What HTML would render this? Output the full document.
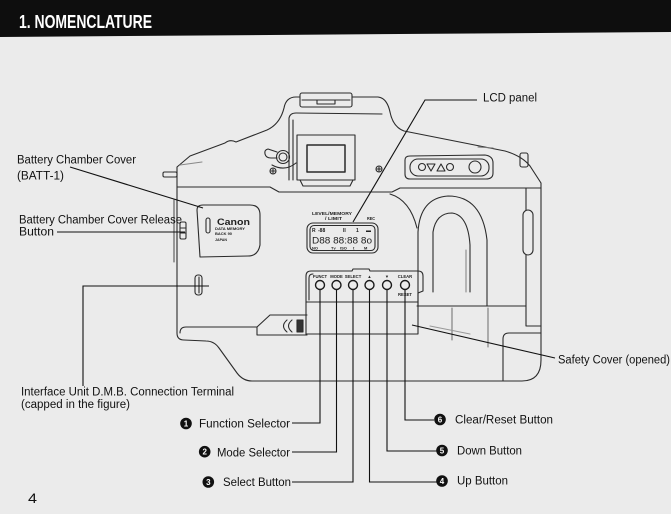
<!DOCTYPE html>
<html><head><meta charset="utf-8"><style>
html,body{margin:0;padding:0;background:#ebebeb;}
svg{display:block;}
text{font-family:"Liberation Sans",Arial,sans-serif;}
</style></head><body>
<svg width="671" height="514" viewBox="0 0 671 514" xmlns="http://www.w3.org/2000/svg">
<rect width="671" height="514" fill="#ebebeb"/>
<!-- header -->
<polygon points="0,0 671,0 671,32 0,37" fill="#0e0e0e"/>
<text x="19" y="28" font-size="18" font-weight="bold" fill="#fff" textLength="133" lengthAdjust="spacingAndGlyphs">1. NOMENCLATURE</text>

<!-- camera drawing -->
<g fill="none" stroke="#2b2b2b" stroke-width="1.1" stroke-linejoin="round" stroke-linecap="round">
  <path d="M177,187 L177,167 L190,156 L225,143 Q230,139 236,142 L267,130 Q280,124 284,108 Q286,97 296,97 L378,97 Q387,98 390,112 Q393,127 404,131 L505,151 Q522,156 530,166 L541,183 L541,360 Q541,381 522,381 L252,381 Q243,381 237,373 L219,348 Q214,341 206,341 L184,340 Q177,340 177,333 Z"/>
  <rect x="163" y="172" width="14" height="5" rx="1.5"/>
  <path d="M180,165 L202,162" stroke="#888"/>
  <rect x="300" y="93" width="52" height="14" rx="2" fill="#ebebeb"/>
  <path d="M302,100 L350,100 M317,100 L317,104 L335,104 L335,100"/>
  <path d="M177,187 L270,187 L279,192 L392,192 L400,188 L541,188"/>
  <path d="M289,180 L289,118 Q290,113 296,113 L382,114"/>
  <path d="M293,180 L293,120"/>
  <rect x="297" y="135" width="58" height="45"/>
  <rect x="307" y="145" width="38" height="27" stroke-width="1.5"/>
  <path d="M300,180 L303,186 L350,186 L353,180"/>
  <circle cx="283" cy="157" r="6.5"/>
  <circle cx="283" cy="157" r="4"/>
  <path d="M277,152 L268,149 Q264,150 265,154 Q266,158 271,158 L277,158"/>
  <path d="M272,165 Q285,172 296,163"/>
  <circle cx="273" cy="171" r="3"/><path d="M271,171 L275,171 M273,169 L273,173"/>
  <circle cx="379" cy="169" r="3"/><path d="M377,169 L381,169 M379,167 L379,171"/>
  <path d="M405,160 Q405,156 410,156 L485,155 Q493,156 493,163 L493,173 Q493,179 486,179 L410,179 Q405,179 405,174 Z"/>
  <rect x="410" y="159" width="79" height="17" rx="8"/>
  <circle cx="422" cy="167" r="3.5"/>
  <path d="M427,164 L435,164 L431,171 Z"/>
  <path d="M437,171 L445,171 L441,164 Z"/>
  <circle cx="450" cy="167" r="3.5"/>
  <circle cx="475" cy="167" r="6"/>
  <rect x="520" y="153" width="8" height="14" rx="2"/>
  <path d="M478,147 L493,148" stroke="#777"/>
  <path d="M526,188 L526,326 L541,326"/>
  <rect x="523" y="210" width="10" height="45" rx="5" fill="#ebebeb"/>
  <path d="M417,306 L526,306"/>
  <path d="M503,381 L503,339 Q503,333 509,333 L541,333"/>
  <path d="M452,308 L452,340 M488,308 L488,347" stroke="#777"/>
  <path d="M430,326 L470,334" stroke="#999"/>
  <path d="M390,194 Q410,200 417,228"/>
  <path d="M418,306 L418,232 Q420,198 448,196 Q482,196 487,240 L487,306"/>
  <path d="M433,292 L433,232 Q436,213 452,213 Q468,215 470,245 L470,292"/>
  <path d="M466,250 L466,292" stroke="#888"/>
  <path d="M200,257 L197,210 Q197,205 203,205 L250,205 Q260,205 260,215 L260,245 Q258,256 248,256 Z"/>
  <rect x="206" y="218" width="4" height="15" rx="2"/>
  <rect x="180" y="222" width="6" height="17" rx="1.5" fill="#ebebeb"/>
  <path d="M180,228 L186,228 M180,233 L186,233"/>
  <path d="M174,200 L174,262" stroke="#555"/>
  <rect x="195" y="275" width="7" height="20" rx="3"/>
  <path d="M199,277 L199,293"/>
  <path d="M180,333 Q180,327 186,327 L257,327"/>
  <rect x="307" y="223" width="71" height="30" rx="6"/>
  <rect x="310" y="225.5" width="65" height="25" rx="4"/>
  <path d="M306,335 L306,276 Q306,271 311,271 L352,271 L353,269 L369,269 L370,271 L418,271 Q423,271 423,276 L423,291 L418,293 L418,334 L306,334"/>
  <path d="M309,300 L309,278 Q309,274 313,274"/>
  <path d="M306,302 L418,302"/>
  <g stroke-width="1.4" stroke="#1a1a1a">
    <circle cx="320" cy="285" r="4.5"/>
    <circle cx="336.5" cy="285" r="4.5"/>
    <circle cx="353" cy="285" r="4.5"/>
    <circle cx="369.5" cy="285" r="4.5"/>
    <circle cx="387" cy="285" r="4.5"/>
    <circle cx="405" cy="285" r="4.5"/>
  </g>
  <path d="M307,315 L270,315 L257,327 L257,335 L307,335"/>
  <path d="M287,320 Q280,326 287,332 M292,320 Q285,326 292,332"/>
  <rect x="297" y="320" width="6" height="12" fill="#333"/>
</g>

<!-- small camera texts -->
<g fill="#222" font-weight="bold">
  <text x="217" y="225" font-size="9" font-family="Liberation Serif,serif" textLength="33" lengthAdjust="spacingAndGlyphs">Canon</text>
  <text x="215" y="230" font-size="4" textLength="30" lengthAdjust="spacingAndGlyphs">DATA MEMORY</text>
  <text x="215" y="235" font-size="4" textLength="17" lengthAdjust="spacingAndGlyphs">BACK 90</text>
  <text x="215" y="241" font-size="4" textLength="12" lengthAdjust="spacingAndGlyphs">JAPAN</text>
  <text x="312" y="215" font-size="4.2" textLength="40" lengthAdjust="spacingAndGlyphs">LEVEL/MEMORY</text>
  <text x="325" y="220" font-size="4.2" textLength="17" lengthAdjust="spacingAndGlyphs">/ LIMIT</text>
  <text x="367" y="220" font-size="4.2" textLength="8" lengthAdjust="spacingAndGlyphs">REC</text>
  <g font-size="5">
    <text x="312" y="232">R</text>
    <text x="318" y="232">-88</text>
    <text x="343" y="232">II</text>
    <text x="356" y="232">1</text>
    <text x="366" y="232">▬</text>
  </g>
  <text x="312" y="243.5" font-size="9" font-weight="normal" textLength="60" lengthAdjust="spacingAndGlyphs">D88 88:88 8o</text>
  <g font-size="4">
    <text x="312" y="249.5">NO</text>
    <text x="331" y="249.5">Tv</text>
    <text x="340" y="249.5">ISO</text>
    <text x="353" y="249.5">t</text>
    <text x="364" y="249.5">M</text>
  </g>
  <g font-size="4.2" text-anchor="middle">
    <text x="320" y="278">FUNCT</text>
    <text x="336.5" y="278">MODE</text>
    <text x="353" y="278">SELECT</text>
    <text x="369.5" y="278">▲</text>
    <text x="387" y="278">▼</text>
    <text x="405" y="278">CLEAR</text>
    <text x="405" y="296">RESET</text>
  </g>
</g>

<!-- leader lines -->
<g fill="none" stroke="#111" stroke-width="1.1">
  <path d="M477,100 L425,100 L353,222"/>
  <path d="M70,167 L203,208"/>
  <path d="M57,232 L185,232"/>
  <path d="M209,286 L83,286 L83,386"/>
  <path d="M412,325 L555,358"/>
  <path d="M292,423 L320,423 L320,290"/>
  <path d="M292,452 L336.5,452 L336.5,290"/>
  <path d="M292,482 L353,482 L353,290"/>
  <path d="M437,482 L369.5,482 L369.5,290"/>
  <path d="M437,451 L387,451 L387,290"/>
  <path d="M434,420 L405,420 L405,290"/>
</g>

<!-- labels -->
<g fill="#111" font-size="11.5">
  <text x="483" y="101.7" textLength="54" lengthAdjust="spacingAndGlyphs">LCD panel</text>
  <text x="17" y="163.5" textLength="119" lengthAdjust="spacingAndGlyphs">Battery Chamber Cover</text>
  <text x="17" y="179.3" textLength="47" lengthAdjust="spacingAndGlyphs">(BATT-1)</text>
  <text x="19" y="223.3" textLength="163" lengthAdjust="spacingAndGlyphs">Battery Chamber Cover Release</text>
  <text x="19" y="235.7" textLength="35" lengthAdjust="spacingAndGlyphs">Button</text>
  <text x="21" y="395.7" textLength="213" lengthAdjust="spacingAndGlyphs">Interface Unit D.M.B. Connection Terminal</text>
  <text x="21" y="408" textLength="109" lengthAdjust="spacingAndGlyphs">(capped in the figure)</text>
  <text x="558" y="363.3" textLength="112" lengthAdjust="spacingAndGlyphs">Safety Cover (opened)</text>
  <text x="199" y="427.3" textLength="91" lengthAdjust="spacingAndGlyphs">Function Selector</text>
  <text x="217" y="456.5" textLength="73" lengthAdjust="spacingAndGlyphs">Mode Selector</text>
  <text x="223" y="486" textLength="68" lengthAdjust="spacingAndGlyphs">Select Button</text>
  <text x="455" y="423.5" textLength="98" lengthAdjust="spacingAndGlyphs">Clear/Reset Button</text>
  <text x="457" y="454.5" textLength="65" lengthAdjust="spacingAndGlyphs">Down Button</text>
  <text x="457" y="484.5" textLength="51" lengthAdjust="spacingAndGlyphs">Up Button</text>
  <text x="28" y="503" font-size="14" textLength="9" lengthAdjust="spacingAndGlyphs">4</text>
</g>

<!-- numbered bullets -->
<g fill="#111">
  <circle cx="186" cy="423.5" r="5.8"/>
  <circle cx="204.7" cy="451.7" r="5.8"/>
  <circle cx="208.3" cy="482" r="5.8"/>
  <circle cx="442" cy="481" r="5.8"/>
  <circle cx="442" cy="450.5" r="5.8"/>
  <circle cx="440" cy="419.5" r="5.8"/>
</g>
<g fill="#fff" font-size="8" font-weight="bold" text-anchor="middle">
  <text x="186" y="426.3">1</text>
  <text x="204.7" y="454.5">2</text>
  <text x="208.3" y="484.8">3</text>
  <text x="442" y="483.8">4</text>
  <text x="442" y="453.3">5</text>
  <text x="440" y="422.3">6</text>
</g>
</svg>
</body></html>
